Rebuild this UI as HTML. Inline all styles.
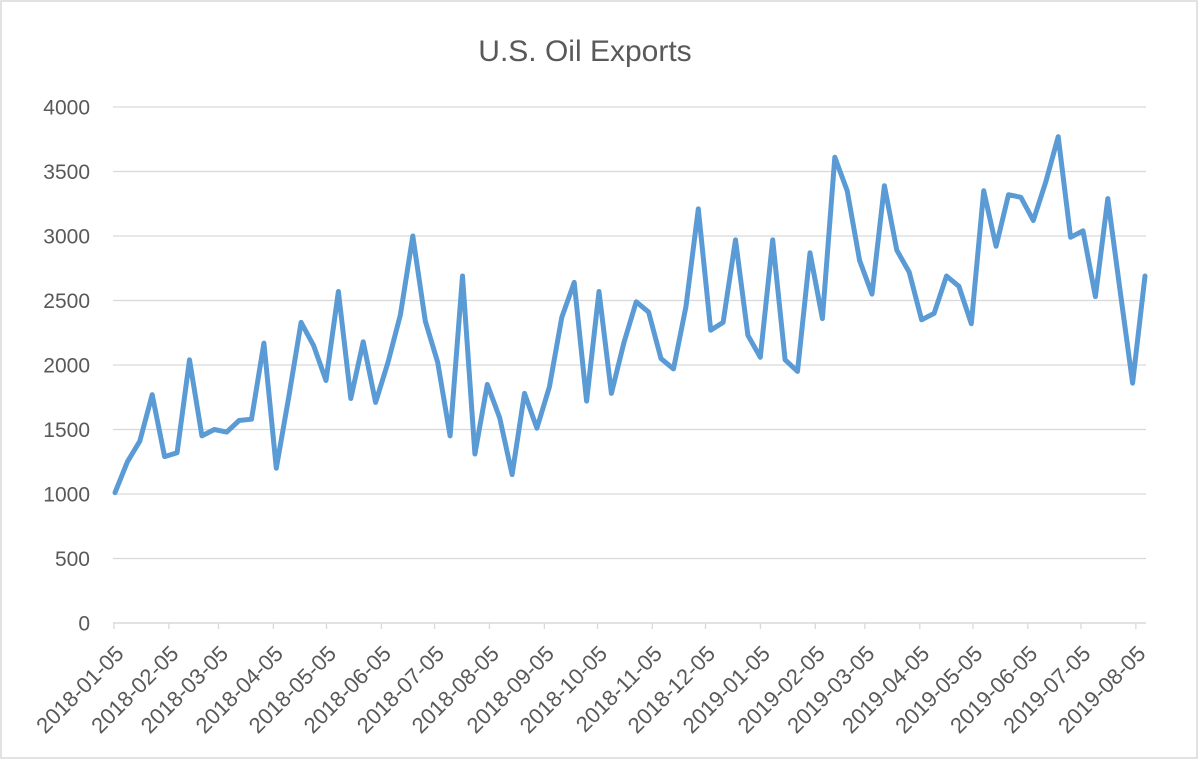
<!DOCTYPE html>
<html><head><meta charset="utf-8"><style>
html,body{margin:0;padding:0;background:#fff;}
svg{display:block;font-family:"Liberation Sans",sans-serif;}
</style></head><body>
<svg id="s" width="1200" height="762" viewBox="0 0 1200 762">
<rect x="1" y="1" width="1196" height="757" fill="#fff" stroke="#d9d9d9" stroke-width="1.5"/>
<text x="585" y="61" text-anchor="middle" font-size="30" fill="#595959">U.S. Oil Exports</text>
<g id="g"></g>
</svg>
<script>
var g=document.getElementById('g'),h='';
function Y(v){return 623-v*0.129;}
for(var v=0;v<=4000;v+=500){var y=Y(v);
 if(v>0)h+='<line x1="113" x2="1146" y1="'+y+'" y2="'+y+'" stroke="#d9d9d9" stroke-width="1.3"/>';
 h+='<text x="90" y="'+(y+7.5)+'" text-anchor="end" font-size="21" fill="#595959">'+v+'</text>';}
h+='<line x1="113" x2="1146" y1="623" y2="623" stroke="#d9d9d9" stroke-width="1.5"/>';
var labels=['2018-01-05','2018-02-05','2018-03-05','2018-04-05','2018-05-05','2018-06-05','2018-07-05','2018-08-05','2018-09-05','2018-10-05','2018-11-05','2018-12-05','2019-01-05','2019-02-05','2019-03-05','2019-04-05','2019-05-05','2019-06-05','2019-07-05','2019-08-05'];
var t0=Date.UTC(2018,0,5);
labels.forEach(function(l){var p=l.split('-');var d=(Date.UTC(+p[0],+p[1]-1,5)-t0)/864e5;var x=114+d*1.771;
 h+='<line x1="'+x+'" x2="'+x+'" y1="623" y2="629" stroke="#d9d9d9" stroke-width="1.3"/>';
 h+='<text transform="translate('+(x+11)+',655) rotate(-45)" text-anchor="end" font-size="22" fill="#595959">'+l+'</text>';});
var d=[1010,1250,1410,1770,1290,1320,2040,1450,1500,1480,1570,1580,2170,1200,1750,2330,2150,1880,2570,1740,2180,1710,2020,2390,3000,2340,2020,1450,2690,1310,1850,1590,1150,1780,1510,1830,2370,2640,1720,2570,1780,2170,2490,2410,2050,1970,2450,3210,2270,2330,2970,2230,2060,2970,2040,1950,2870,2360,3610,3350,2810,2550,3390,2890,2720,2350,2400,2690,2610,2320,3350,2920,3320,3300,3120,3420,3770,2990,3040,2530,3290,2570,1860,2690];
var pts=d.map(function(v,i){return (115+i*12.41).toFixed(1)+','+Y(v).toFixed(1);}).join(' ');
h+='<polyline points="'+pts+'" fill="none" stroke="#5b9bd5" stroke-width="5" stroke-linejoin="round" stroke-linecap="round"/>';
g.innerHTML=h;
</script>
</body></html>
